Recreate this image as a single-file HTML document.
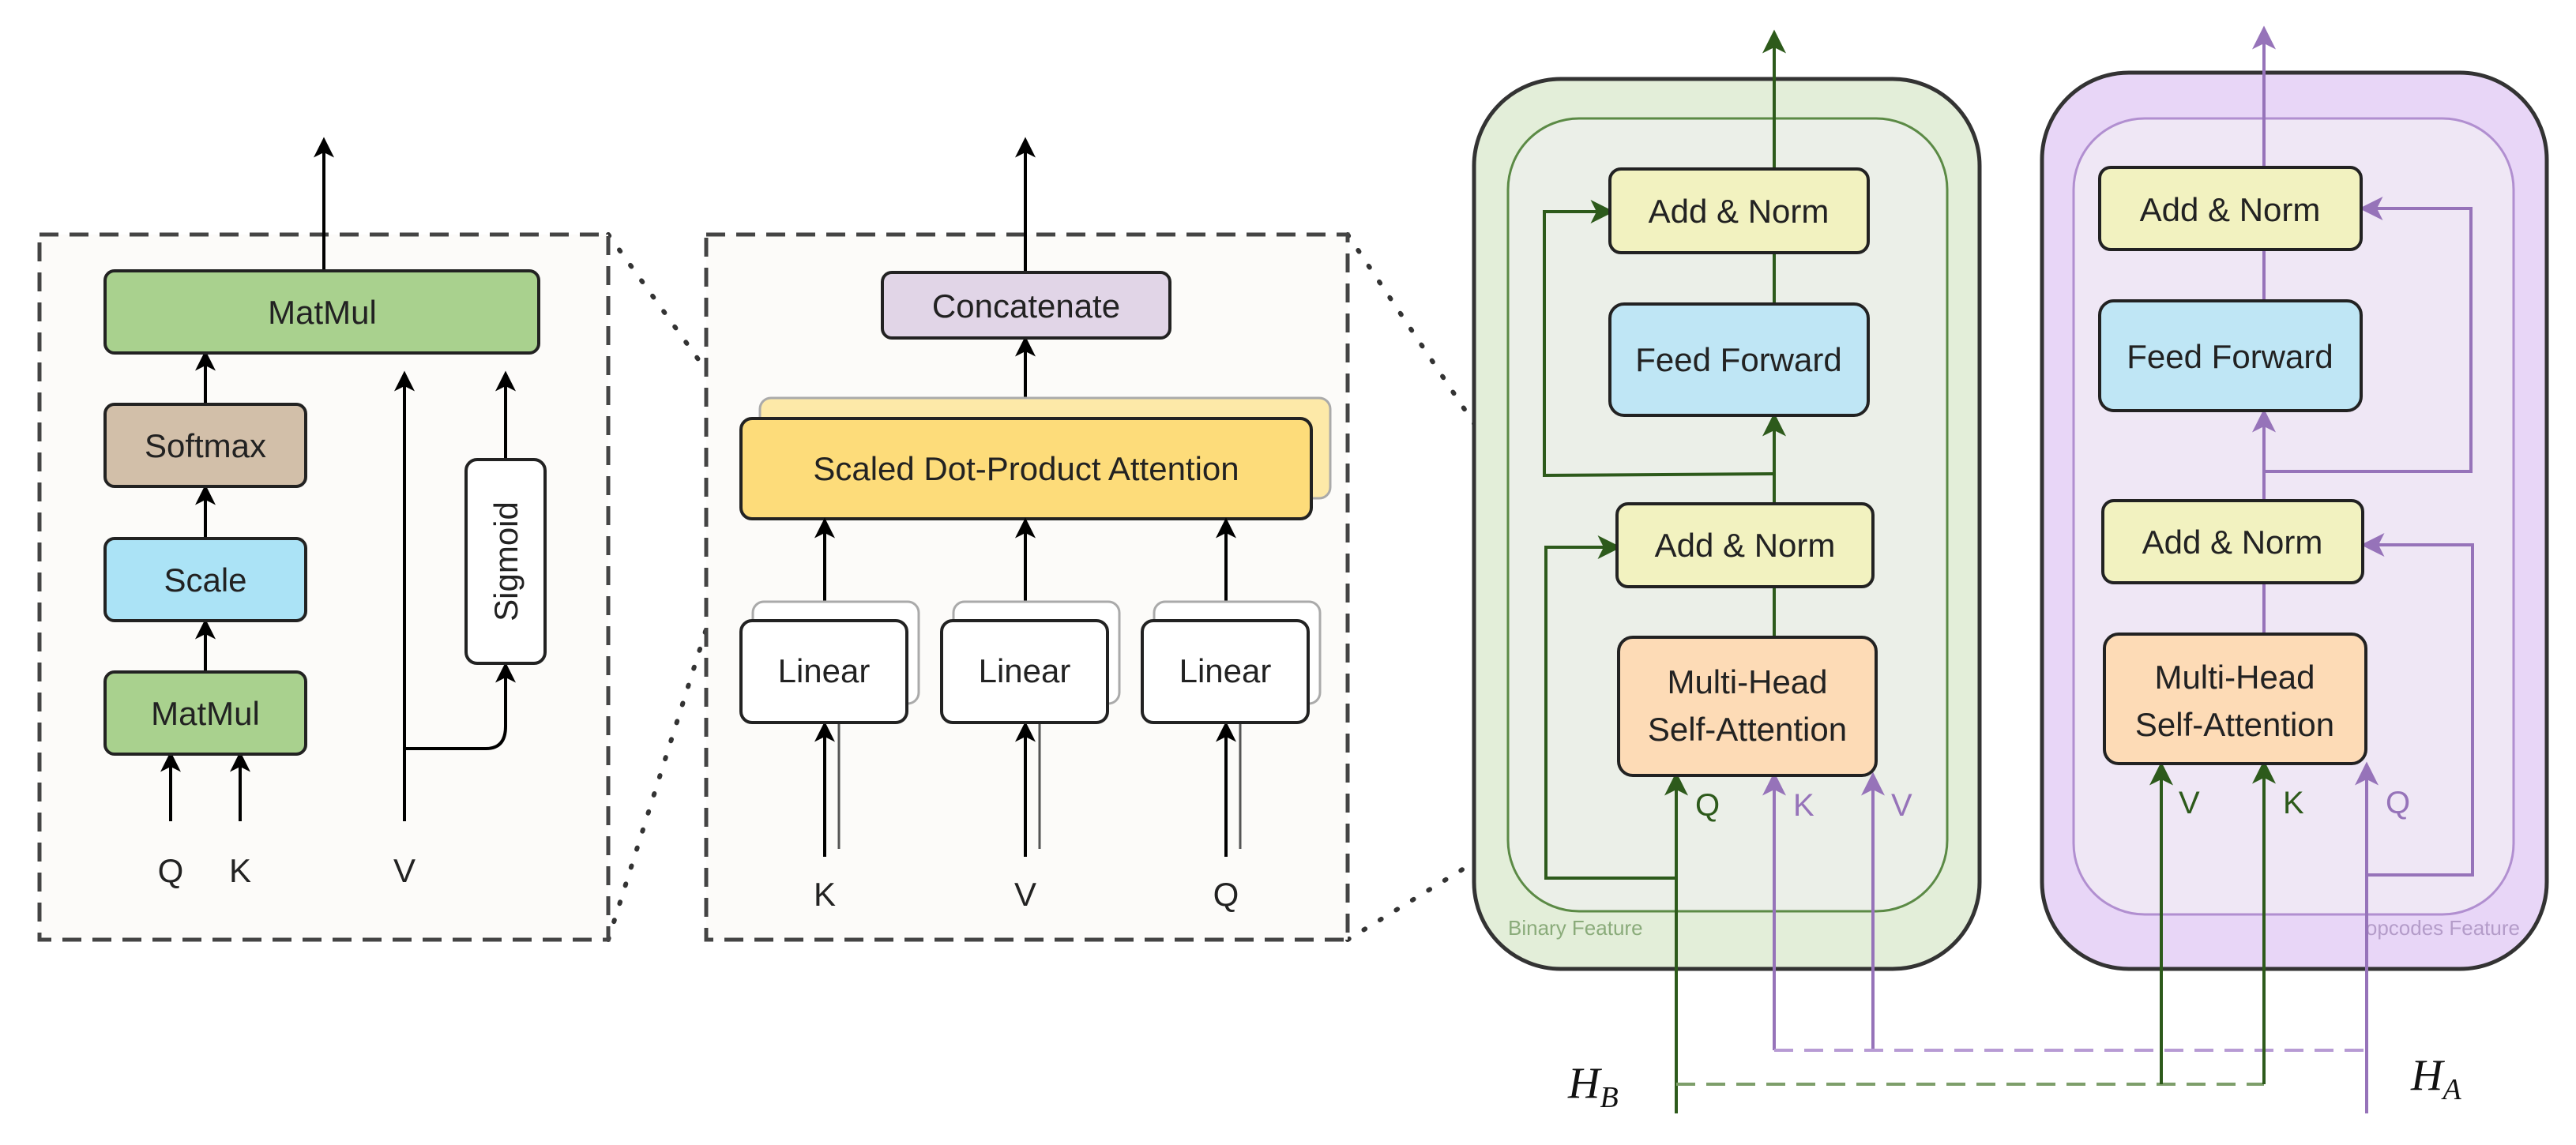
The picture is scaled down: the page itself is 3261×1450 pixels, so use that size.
<!DOCTYPE html>
<html><head><meta charset="utf-8"><style>html,body{margin:0;padding:0;background:#fff}svg{display:block}</style></head>
<body>
<svg width="3261" height="1450" viewBox="0 0 3261 1450" xmlns="http://www.w3.org/2000/svg" font-family="Liberation Sans, sans-serif">
<defs>
<marker id="ag" viewBox="0 0 8 8" refX="6" refY="4" markerWidth="30" markerHeight="30" orient="auto" markerUnits="userSpaceOnUse"><path d="M0,0 L8,4 L0,8 L2,4 Z" fill="#2d5a1b"/></marker>
<marker id="ap" viewBox="0 0 8 8" refX="6" refY="4" markerWidth="30" markerHeight="30" orient="auto" markerUnits="userSpaceOnUse"><path d="M0,0 L8,4 L0,8 L2,4 Z" fill="#9673b9"/></marker>
<marker id="ab" viewBox="0 0 8 8" refX="6" refY="4" markerWidth="26" markerHeight="26" orient="auto" markerUnits="userSpaceOnUse"><path d="M0,0 L8,4 L0,8 L2,4 Z" fill="#000"/></marker>
</defs>

<g stroke="#333" stroke-width="6" stroke-dasharray="2 22" stroke-linecap="round" fill="none">
<line x1="770" y1="297" x2="938" y2="530"/>
<line x1="770" y1="1190" x2="938" y2="657"/>
<line x1="1706" y1="297" x2="2049" y2="810"/>
<line x1="1706" y1="1190" x2="2049" y2="980"/>
</g>

<rect x="50" y="297" width="720" height="893" fill="#fcfbf9" stroke="#444" stroke-width="5" stroke-dasharray="24 14"/>
<g stroke="#000" stroke-width="4" fill="none">
<line x1="410" y1="343" x2="410" y2="180" marker-end="url(#ab)"/>
<line x1="260" y1="512" x2="260" y2="450" marker-end="url(#ab)"/>
<line x1="260" y1="682" x2="260" y2="620" marker-end="url(#ab)"/>
<line x1="260" y1="851" x2="260" y2="790" marker-end="url(#ab)"/>
<line x1="216" y1="1040" x2="216" y2="958" marker-end="url(#ab)"/>
<line x1="304" y1="1040" x2="304" y2="958" marker-end="url(#ab)"/>
<line x1="512" y1="1040" x2="512" y2="476" marker-end="url(#ab)"/>
<path d="M512,948 L615,948 Q640,948 640,920 L640,845" marker-end="url(#ab)"/>
<line x1="640" y1="582" x2="640" y2="476" marker-end="url(#ab)"/>
</g>
<rect x="133" y="343" width="549" height="104" rx="12" fill="#a9d18e" stroke="#222" stroke-width="4"/>
<rect x="133" y="512" width="254" height="104" rx="12" fill="#d2bfa9" stroke="#222" stroke-width="4"/>
<rect x="133" y="682" width="254" height="104" rx="12" fill="#abe3f6" stroke="#222" stroke-width="4"/>
<rect x="133" y="851" width="254" height="104" rx="12" fill="#a9d18e" stroke="#222" stroke-width="4"/>
<rect x="590" y="582" width="100" height="258" rx="14" fill="#fff" stroke="#222" stroke-width="4"/>
<g font-size="42" fill="#222" text-anchor="middle">
<text x="408" y="410">MatMul</text>
<text x="260" y="579">Softmax</text>
<text x="260" y="749">Scale</text>
<text x="260" y="918">MatMul</text>
<text transform="translate(655,711) rotate(-90)">Sigmoid</text>
<text x="216" y="1117">Q</text><text x="304" y="1117">K</text><text x="512" y="1117">V</text>
</g>

<rect x="894" y="297" width="812" height="893" fill="#fcfbf9" stroke="#444" stroke-width="5" stroke-dasharray="24 14"/>
<g stroke="#000" stroke-width="4" fill="none">
<line x1="1298" y1="345" x2="1298" y2="180" marker-end="url(#ab)"/>
<line x1="1298" y1="530" x2="1298" y2="432" marker-end="url(#ab)"/>
</g>
<rect x="1117" y="345" width="364" height="83" rx="12" fill="#e1d5e7" stroke="#222" stroke-width="4"/>
<rect x="962" y="504" width="722" height="127" rx="14" fill="#fde9a8" stroke="#aaa" stroke-width="3"/>
<rect x="938" y="530" width="722" height="127" rx="14" fill="#fddc7a" stroke="#222" stroke-width="4"/>
<g font-size="42" fill="#222" text-anchor="middle">
<text x="1299" y="402">Concatenate</text>
<text x="1299" y="608">Scaled Dot-Product Attention</text>
</g>
<g id="lin">
<g stroke="#000" fill="none">
<line x1="1062" y1="1075" x2="1062" y2="770" stroke-width="3" stroke="#555"/>
<line x1="1044" y1="1085" x2="1044" y2="920" stroke-width="4" marker-end="url(#ab)"/>
<line x1="1044" y1="786" x2="1044" y2="662" stroke-width="4" marker-end="url(#ab)"/>
</g>
<rect x="953" y="762" width="210" height="129" rx="14" fill="#fff" stroke="#aaa" stroke-width="3"/>
<rect x="938" y="786" width="210" height="129" rx="14" fill="#fff" stroke="#222" stroke-width="4"/>
<text x="1043" y="864" font-size="42" fill="#222" text-anchor="middle">Linear</text>
</g>
<use href="#lin" x="254"/>
<use href="#lin" x="508"/>
<g font-size="42" fill="#222" text-anchor="middle">
<text x="1044" y="1147">K</text><text x="1298" y="1147">V</text><text x="1552" y="1147">Q</text>
</g>

<rect x="1866" y="100" width="640" height="1127" rx="110" fill="#e3eed9" stroke="#333" stroke-width="5"/>
<rect x="1909" y="150" width="556" height="1004" rx="90" fill="#ebefe8" stroke="#5b8a45" stroke-width="3"/>
<text x="1909" y="1184" font-size="26" fill="#8aab7a">Binary Feature</text>
<g stroke="#2d5a1b" stroke-width="4" fill="none">
<line x1="2246" y1="214" x2="2246" y2="45" marker-end="url(#ag)"/>
<line x1="2246" y1="385" x2="2246" y2="320"/>
<line x1="2246" y1="638" x2="2246" y2="530" marker-end="url(#ag)"/>
<line x1="2246" y1="807" x2="2246" y2="743"/>
<polyline points="2246,600 1955,602 1955,268 2036,268" marker-end="url(#ag)"/>
<polyline points="2122,1112 1957,1112 1957,693 2045,693" marker-end="url(#ag)"/>
<line x1="2122" y1="1410" x2="2122" y2="985" marker-end="url(#ag)"/>
<line x1="2122" y1="1373" x2="2866" y2="1373" stroke="#7d9e6a" stroke-dasharray="24 14"/>
</g>
<g stroke="#9673b9" stroke-width="4" fill="none">
<line x1="2246" y1="1330" x2="2246" y2="985" marker-end="url(#ap)"/>
<line x1="2371" y1="1330" x2="2371" y2="985" marker-end="url(#ap)"/>
</g>
<line x1="2246" y1="1330" x2="2996" y2="1330" stroke="#b79bd4" stroke-width="4" stroke-dasharray="24 14"/>
<rect x="2038" y="214" width="327" height="106" rx="14" fill="#f2f2c0" stroke="#222" stroke-width="4"/>
<rect x="2038" y="385" width="327" height="141" rx="18" fill="#bfe6f5" stroke="#222" stroke-width="4"/>
<rect x="2047" y="638" width="324" height="105" rx="14" fill="#f2f2c0" stroke="#222" stroke-width="4"/>
<rect x="2049" y="807" width="326" height="175" rx="18" fill="#fddbb6" stroke="#222" stroke-width="4"/>
<g font-size="42" fill="#222" text-anchor="middle">
<text x="2201" y="282">Add &amp; Norm</text>
<text x="2201" y="470">Feed Forward</text>
<text x="2209" y="705">Add &amp; Norm</text>
<text x="2212" y="878">Multi-Head</text>
<text x="2212" y="938">Self-Attention</text>
</g>
<g font-size="40">
<text x="2146" y="1033" fill="#2d5a1b">Q</text>
<text x="2270" y="1033" fill="#9673b9">K</text>
<text x="2394" y="1033" fill="#9673b9">V</text>
</g>

<rect x="2585" y="92" width="639" height="1135" rx="110" fill="#e8d6f7" stroke="#333" stroke-width="5"/>
<rect x="2625" y="150" width="557" height="1008" rx="90" fill="#efe7f5" stroke="#b18fd0" stroke-width="3"/>
<text x="3190" y="1184" font-size="26" fill="#b49cc9" text-anchor="end">opcodes Feature</text>
<g stroke="#9673b9" stroke-width="4" fill="none">
<line x1="2866" y1="212" x2="2866" y2="40" marker-end="url(#ap)"/>
<line x1="2866" y1="381" x2="2866" y2="316"/>
<line x1="2866" y1="634" x2="2866" y2="525" marker-end="url(#ap)"/>
<line x1="2866" y1="803" x2="2866" y2="738"/>
<polyline points="2866,597 3128,597 3128,264 2994,264" marker-end="url(#ap)"/>
<polyline points="2996,1108 3130,1108 3130,690 2996,690" marker-end="url(#ap)"/>
<line x1="2996" y1="1410" x2="2996" y2="972" marker-end="url(#ap)"/>
</g>
<g stroke="#2d5a1b" stroke-width="4" fill="none">
<line x1="2736" y1="1373" x2="2736" y2="972" marker-end="url(#ag)"/>
<line x1="2866" y1="1373" x2="2866" y2="970" marker-end="url(#ag)"/>
</g>
<rect x="2658" y="212" width="331" height="104" rx="14" fill="#f2f2c0" stroke="#222" stroke-width="4"/>
<rect x="2658" y="381" width="331" height="139" rx="18" fill="#bfe6f5" stroke="#222" stroke-width="4"/>
<rect x="2662" y="634" width="329" height="104" rx="14" fill="#f2f2c0" stroke="#222" stroke-width="4"/>
<rect x="2664" y="803" width="331" height="164" rx="18" fill="#fddbb6" stroke="#222" stroke-width="4"/>
<g font-size="42" fill="#222" text-anchor="middle">
<text x="2823" y="280">Add &amp; Norm</text>
<text x="2823" y="466">Feed Forward</text>
<text x="2826" y="701">Add &amp; Norm</text>
<text x="2829" y="872">Multi-Head</text>
<text x="2829" y="932">Self-Attention</text>
</g>
<g font-size="40">
<text x="2758" y="1030" fill="#2d5a1b">V</text>
<text x="2890" y="1030" fill="#2d5a1b">K</text>
<text x="3020" y="1030" fill="#9673b9">Q</text>
</g>

<g font-family="Liberation Serif, serif" font-style="italic" fill="#111">
<text x="1985" y="1390" font-size="56">H<tspan font-size="38" dy="12">B</tspan></text>
<text x="3052" y="1380" font-size="56">H<tspan font-size="38" dy="12">A</tspan></text>
</g>
</svg>
</body></html>
